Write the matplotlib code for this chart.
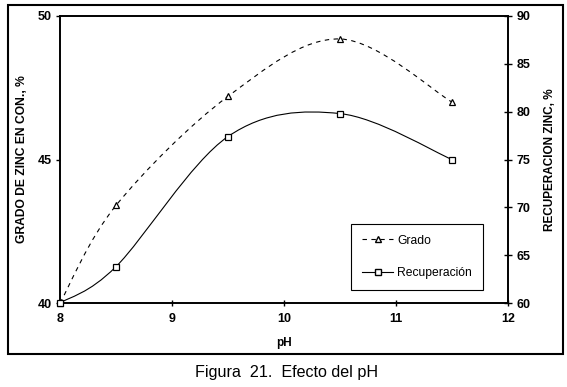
import matplotlib
matplotlib.use("Agg")
import matplotlib.pyplot as plt
from matplotlib.path import Path
from matplotlib.patches import PathPatch, Rectangle
from matplotlib.lines import Line2D

plt.rcParams['font.family'] = ['Liberation Sans', 'DejaVu Sans']

ph = [8, 8.5, 9.5, 10.5, 11.5]
grado = [40.0, 43.4, 47.2, 49.2, 47.0]
recuperacion = [60.0, 63.8, 77.4, 79.8, 75.0]


def smooth_path(xs, ys):
    # Catmull-Rom style bezier, like the smoothed lines of a spreadsheet chart
    pts = list(zip(xs, ys))
    verts = [pts[0]]
    codes = [Path.MOVETO]
    n = len(pts)
    for i in range(n - 1):
        p0 = pts[i - 1] if i > 0 else pts[i]
        p1 = pts[i]
        p2 = pts[i + 1]
        p3 = pts[i + 2] if i + 2 < n else pts[i + 1]
        c1 = (p1[0] + (p2[0] - p0[0]) / 6, p1[1] + (p2[1] - p0[1]) / 6)
        c2 = (p2[0] - (p3[0] - p1[0]) / 6, p2[1] - (p3[1] - p1[1]) / 6)
        verts += [c1, c2, p2]
        codes += [Path.CURVE4] * 3
    return Path(verts, codes)


fig = plt.figure(figsize=(5.67, 3.87), dpi=100)
ax = fig.add_axes([60 / 567, 1 - 303 / 387, 448 / 567, 287 / 387])
ax2 = ax.twinx()

ax.set_xlim(8, 12)
ax.set_ylim(40, 50)
ax2.set_ylim(60, 90)

ax.add_patch(PathPatch(smooth_path(ph, grado), fill=False, color='black',
                       lw=0.8, linestyle=(0, (4, 4))))
ax.plot(ph, grado, linestyle='none', marker='^', markersize=4.5,
        markerfacecolor='white', markeredgecolor='black', markeredgewidth=0.9,
        clip_on=False, zorder=3)

ax2.add_patch(PathPatch(smooth_path(ph, recuperacion), fill=False, color='black',
                        lw=0.8))
ax2.plot(ph, recuperacion, linestyle='none', marker='s', markersize=4.5,
         markerfacecolor='white', markeredgecolor='black', markeredgewidth=0.9,
         clip_on=False, zorder=3)

ax.set_xticks([8, 9, 10, 11, 12])
ax.set_yticks([40, 45, 50])
ax2.set_yticks([60, 65, 70, 75, 80, 85, 90])

for a in (ax, ax2):
    for s in a.spines.values():
        s.set_linewidth(1.2)
    for lab in a.get_xticklabels() + a.get_yticklabels():
        lab.set_fontweight('bold')
        lab.set_fontsize(9)

ax.tick_params(axis='x', direction='inout', length=5, width=1, pad=5)
ax.tick_params(axis='y', direction='out', length=3, width=1, pad=3)
ax2.tick_params(axis='y', direction='inout', length=6, width=1, pad=3)

ax.set_xlabel('pH', fontsize=8.5, fontweight='bold', labelpad=8)
ax.set_ylabel('GRADO DE ZINC EN CON., %', fontsize=8.7, fontweight='bold', labelpad=7)
ax2.set_ylabel('RECUPERACION ZINC, %', fontsize=8.5, fontweight='bold', labelpad=10)

handles = [
    Line2D([], [], color='black', lw=0.8, linestyle=(0, (4, 4)), marker='^',
           markersize=4.5, markerfacecolor='white', markeredgecolor='black'),
    Line2D([], [], color='black', lw=0.8, marker='s', markersize=4.5,
           markerfacecolor='white', markeredgecolor='black'),
]
leg = ax2.legend(handles, ['Grado', 'Recuperación'], loc='lower left',
                 bbox_to_anchor=(0.65, 0.045), borderaxespad=0,
                 fontsize=8.7, fancybox=False, edgecolor='black', framealpha=1,
                 labelspacing=1.7, handlelength=2.6, borderpad=0.9,
                 handletextpad=0.3)
leg.get_frame().set_linewidth(0.8)

fig.patches.append(Rectangle((8 / 567, 1 - 354 / 387), 555 / 567, 349 / 387,
                             transform=fig.transFigure, fill=False,
                             edgecolor='black', lw=1.5))
fig.text(287 / 567, 1 - 372 / 387, 'Figura  21.  Efecto del pH', ha='center',
         va='center', fontsize=11.6)

fig.savefig('out.png', dpi=100)
